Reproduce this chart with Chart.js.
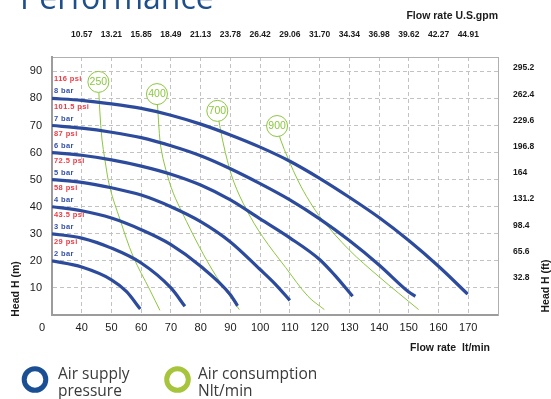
<!DOCTYPE html>
<html>
<head>
<meta charset="utf-8">
<title>Performance</title>
<script src="https://cdn.jsdelivr.net/npm/chart.js@4.4.1/dist/chart.umd.min.js"></script>
<style>
  html, body { margin: 0; padding: 0; background: #fff; }
  #wrap { width: 551px; height: 399px; }
</style>
</head>
<body>
<div id="wrap"><canvas id="perfChart" width="551" height="399"></canvas></div>
<script>
// Axis ticks
const flowTicks = [40, 50, 60, 70, 80, 90, 100, 110, 120, 130, 140, 150, 160, 170];
const gpmLabels = ['10.57', '13.21', '15.85', '18.49', '21.13', '23.78', '26.42', '29.06', '31.70', '34.34', '36.98', '39.62', '42.27', '44.91'];
const headTicks = [10, 20, 30, 40, 50, 60, 70, 80, 90];
const ftLabels = ['32.8', '65.6', '98.4', '131.2', '164', '196.8', '229.6', '262.4', '295.2'];

// Air supply pressure curves: [flow lt/min, head m]
const barLabels = ['2 bar', '3 bar', '4 bar', '5 bar', '6 bar', '7 bar', '8 bar'];
const psiLabels = ['29 psi', '43.5 psi', '58 psi', '72.5 psi', '87 psi', '101.5 psi', '116 psi'];
const curve2bar = [[30, 20], [40, 17.7], [50, 13], [55, 8.7], [59.7, 2.2]];
const curve3bar = [[30, 30], [40, 28.4], [50, 24.7], [60, 19.2], [70, 10], [74.7, 3.2]];
const curve4bar = [[30, 40], [40, 38.5], [50, 35.8], [60, 31.5], [70, 26], [80, 18], [90, 7.5], [92.4, 3.4]];
const curve5bar = [[30, 50], [40, 49], [50, 47], [60, 44.3], [70, 40], [80, 34.5], [90, 27], [100, 16.8], [105, 11.5], [110, 5.4]];
const curve6bar = [[30, 60], [40, 59], [50, 57.3], [60, 55], [70, 52], [80, 48], [90, 42.5], [100, 35.5], [110, 28.5], [120, 20.5], [125, 14.8], [131.1, 6.9]];
const curve7bar = [[30, 70], [40, 69], [50, 67.5], [60, 65.5], [70, 62.5], [80, 58.8], [90, 54], [100, 48.5], [110, 42.5], [120, 35.5], [130, 27.5], [140, 18.5], [150, 8.5], [152.2, 6.9]];
const curve8bar = [[30, 80], [40, 79.3], [50, 78], [60, 76.3], [70, 73.8], [80, 70.5], [90, 66.5], [100, 62], [110, 56.8], [120, 50.5], [130, 43.5], [140, 36], [150, 27.5], [160, 18], [169.8, 7.7]];
const pressureCurves = [curve2bar, curve3bar, curve4bar, curve5bar, curve6bar, curve7bar, curve8bar];

// Air consumption lines (Nlt/min), first point carries the label
const airLabels = ['250', '400', '700', '900'];
const air250 = [[45.6, 86.1], [46.1, 75], [46.8, 65], [47.8, 57.3], [49.5, 46.9], [52.9, 35.2], [57.3, 21.6], [62.9, 9.3], [66.3, 1.7]];
const air400 = [[65.3, 81.6], [65.8, 72], [66.6, 62], [68.3, 53.6], [70.8, 45], [73.9, 37.6], [79.5, 25.3], [85.3, 14.2], [93, 2]];
const air700 = [[85.6, 75.4], [86.4, 70], [88.3, 60], [91.2, 49], [95.6, 38.5], [100.8, 29], [108.6, 17.5], [116.1, 6.9], [121.6, 2]];
const air900 = [[105.7, 69.8], [106.8, 65], [109.6, 57.3], [112.8, 49.5], [116.6, 42], [120.9, 35.2], [129.9, 24.1], [139.9, 14.2], [153.3, 2]];
const airCurves = [air250, air400, air700, air900];

const FONT = '"Liberation Sans", Arial, sans-serif';
const LEGEND_FONT = '"Open Sans", "Noto Sans", sans-serif';
const BLUE = '#2d4b9c';
const BLUE_TXT = '#3550a5';
const RED = '#ee3a43';
const GREEN = '#8cc63f';
const NAVY = '#1e4f8c';
const TEXT = '#1a1a1a';

const toPoints = arr => arr.map(p => ({ x: p[0], y: p[1] }));

const datasets = [];
pressureCurves.forEach((c, i) => {
    datasets.push({
        label: barLabels[i],
        data: toPoints(c),
        borderColor: BLUE,
        borderWidth: 3.2,
        pointRadius: 0,
        cubicInterpolationMode: 'monotone',
        fill: false,
        order: 1
    });
});
airCurves.forEach((c, i) => {
    datasets.push({
        label: airLabels[i],
        data: toPoints(c),
        borderColor: GREEN,
        borderWidth: 1,
        pointRadius: 0,
        tension: 0.35,
        fill: false,
        order: 2
    });
});

// Labels, circles, titles and legend drawn straight on the canvas
const extrasPlugin = {
    id: 'extras',
    afterDatasetsDraw(chart) {
        const { ctx, scales: { x, y } } = chart;
        ctx.save();
        airCurves.forEach((c, i) => {
            const cx = x.getPixelForValue(c[0][0]);
            const cy = y.getPixelForValue(c[0][1]);
            ctx.beginPath();
            ctx.arc(cx, cy, 10.5, 0, Math.PI * 2);
            ctx.fillStyle = '#fff';
            ctx.fill();
            ctx.lineWidth = 1;
            ctx.strokeStyle = GREEN;
            ctx.stroke();
            ctx.fillStyle = GREEN;
            ctx.font = '10.5px ' + FONT;
            ctx.textAlign = 'center';
            ctx.textBaseline = 'middle';
            ctx.fillText(airLabels[i], cx, cy + 0.5);
        });

        ctx.textAlign = 'left';
        ctx.textBaseline = 'middle';
        ctx.font = 'bold 7.5px ' + FONT;
        ctx.letterSpacing = '0.4px';
        pressureCurves.forEach((c, i) => {
            const py = y.getPixelForValue(c[0][1]);
            ctx.fillStyle = RED;
            ctx.fillText(psiLabels[i], x.left + 2, py - 19);
            ctx.fillStyle = BLUE_TXT;
            ctx.fillText(barLabels[i], x.left + 2, py - 7);
        });
        ctx.restore();
    },
    afterDraw(chart) {
        const { ctx, scales: { x } } = chart;
        ctx.save();

        // page heading, cut by the top edge
        ctx.fillStyle = NAVY;
        ctx.font = '32px ' + LEGEND_FONT;
        ctx.textAlign = 'left';
        ctx.textBaseline = 'alphabetic';
        ctx.fillText('Performance', 20, 9);

        // axis titles
        ctx.fillStyle = TEXT;
        ctx.font = 'bold 10.5px ' + FONT;
        ctx.textAlign = 'right';
        ctx.textBaseline = 'middle';
        ctx.fillText('Flow rate U.S.gpm', 498, 16);
        ctx.fillText('Flow rate  lt/min', 490, 348);

        ctx.font = '11px ' + FONT;
        ctx.textAlign = 'center';
        ctx.fillText('0', 42, x.top + 13);

        ctx.font = 'bold 10.5px ' + FONT;
        ctx.save();
        ctx.translate(16, 289);
        ctx.rotate(-Math.PI / 2);
        ctx.fillText('Head H (m)', 0, 0);
        ctx.restore();
        ctx.save();
        ctx.translate(546, 286);
        ctx.rotate(-Math.PI / 2);
        ctx.fillText('Head H (ft)', 0, 0);
        ctx.restore();

        // legend rings
        ctx.lineWidth = 5;
        ctx.strokeStyle = '#1b4f93';
        ctx.beginPath();
        ctx.arc(35, 379.5, 10.8, 0, Math.PI * 2);
        ctx.stroke();
        ctx.strokeStyle = '#a6c43c';
        ctx.beginPath();
        ctx.arc(177.5, 379.5, 10.8, 0, Math.PI * 2);
        ctx.stroke();

        ctx.fillStyle = '#3a3a3a';
        ctx.font = '15.5px ' + LEGEND_FONT;
        ctx.textAlign = 'left';
        ctx.textBaseline = 'alphabetic';
        ctx.fillText('Air supply', 58, 379);
        ctx.fillText('pressure', 58, 396);
        ctx.fillText('Air consumption', 198, 379);
        ctx.fillText('Nlt/min', 198, 396);

        ctx.restore();
    }
};

const ctx = document.getElementById('perfChart').getContext('2d');
new Chart(ctx, {
    type: 'line',
    data: { datasets: datasets },
    options: {
        responsive: false,
        animation: false,
        layout: { padding: 0 },
        plugins: {
            legend: { display: false },
            tooltip: { enabled: false }
        },
        scales: {
            x: {
                type: 'linear',
                position: 'bottom',
                min: 30,
                max: 180,
                afterBuildTicks: s => { s.ticks = flowTicks.map(v => ({ value: v })); },
                afterFit: s => { s.height = 84; },
                ticks: {
                    padding: 6.5,
                    color: TEXT,
                    maxRotation: 0,
                    autoSkip: false,
                    font: { family: FONT, size: 11 }
                },
                grid: { color: '#c2c2c2', lineWidth: 1, drawTicks: false },
                border: { color: '#9c9c9c', width: 2, dash: [4, 3] }
            },
            x2: {
                type: 'linear',
                position: 'top',
                min: 30,
                max: 180,
                afterBuildTicks: s => { s.ticks = flowTicks.map(v => ({ value: v })); },
                afterFit: s => { s.height = 57; },
                ticks: {
                    padding: 17,
                    color: TEXT,
                    maxRotation: 0,
                    autoSkip: false,
                    font: { family: FONT, size: 8.5, weight: 'bold' },
                    callback: (v, i) => gpmLabels[i]
                },
                grid: { display: false, drawTicks: false },
                border: { color: '#b0b0b0', width: 1 }
            },
            y: {
                type: 'linear',
                position: 'left',
                min: 0,
                max: 95.3,
                afterBuildTicks: s => { s.ticks = headTicks.map(v => ({ value: v })); },
                afterFit: s => { s.width = 52; },
                ticks: {
                    padding: 10,
                    color: TEXT,
                    font: { family: FONT, size: 11 }
                },
                grid: { color: '#c2c2c2', lineWidth: 1, drawTicks: false },
                border: { color: '#9c9c9c', width: 2, dash: [4, 3] }
            },
            y2: {
                type: 'linear',
                position: 'right',
                min: -14,
                max: 309,
                afterBuildTicks: s => { s.ticks = ftLabels.map(v => ({ value: parseFloat(v) })); },
                afterFit: s => { s.width = 53; },
                ticks: {
                    padding: 15,
                    color: TEXT,
                    font: { family: FONT, size: 8.5, weight: 'bold' },
                    callback: (v, i) => ftLabels[i]
                },
                grid: { display: false, drawTicks: false },
                border: { color: '#b0b0b0', width: 1 }
            }
        }
    },
    plugins: [extrasPlugin]
});
</script>
</body>
</html>
